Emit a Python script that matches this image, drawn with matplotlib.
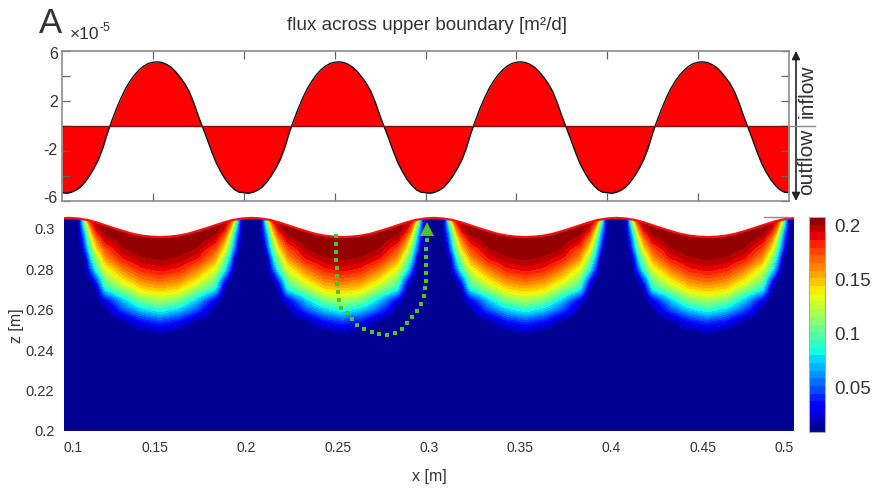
"""Flux across the upper boundary and the field below the wavy surface."""

import matplotlib
matplotlib.use("Agg")
import matplotlib.pyplot as plt
import numpy as np
from matplotlib.patches import Polygon
from matplotlib.transforms import Affine2D, ScaledTranslation

plt.rcParams["font.family"] = ["Liberation Sans", "DejaVu Sans"]

W, H = 877, 494
TEXT = "#333333"
GREY = "#8c8c8c"
GREEN = "#4fc22e"

# flux [1e-5 m2/d], one period sampled every 0.0025 m starting at x = 0.1
flux_period = [
    -5.33, -5.38, -5.30, -5.14, -4.90, -4.50, -4.00, -3.40, -2.70, -1.75,
    -0.55, 0.45, 1.40, 2.25, 3.00, 3.60, 4.10, 4.50, 4.80, 5.00,
    5.10, 5.13, 5.08, 4.93, 4.70, 4.35, 3.90, 3.40, 2.75, 1.85,
    0.80, -0.15, -1.10, -2.10, -3.00, -3.70, -4.30, -4.75, -5.10, -5.30,
]
flux_x_start = 0.1
flux_x_step = 0.0025

# surface height [m], crest to trough, every 0.005 m
surface_half = [0.3055, 0.3052, 0.3045, 0.3033, 0.3018, 0.3003,
                0.2989, 0.2976, 0.2967, 0.2962, 0.2960]
first_trough = 0.0527

# field table: rows are z, columns are distance from the trough centre
field_d = [0.0, 0.01, 0.02, 0.03, 0.035, 0.038, 0.041, 0.043, 0.045, 0.05]
field_z = [0.2, 0.245, 0.25, 0.255, 0.26, 0.265, 0.27, 0.275, 0.28, 0.285,
           0.29, 0.295, 0.30, 0.305, 0.31]
field_rows = [
    [0, 0, 0, 0, 0, 0, 0, 0, 0, 0],
    [0, 0, 0, 0, 0, 0, 0, 0, 0, 0],
    [0.012, 0.005, 0, 0, 0, 0, 0, 0, 0, 0],
    [0.04, 0.03, 0.006, 0, 0, 0, 0, 0, 0, 0],
    [0.08, 0.065, 0.04, 0.002, 0, 0, 0, 0, 0, 0],
    [0.11, 0.1, 0.065, 0.02, 0, 0, 0, 0, 0, 0],
    [0.14, 0.133, 0.105, 0.075, 0.005, 0, 0, 0, 0, 0],
    [0.162, 0.155, 0.133, 0.1, 0.035, 0.005, 0, 0, 0, 0],
    [0.182, 0.176, 0.155, 0.122, 0.082, 0.04, 0, 0, 0, 0],
    [0.194, 0.19, 0.178, 0.148, 0.101, 0.066, 0.005, 0, 0, 0],
    [0.201, 0.2, 0.192, 0.165, 0.133, 0.09, 0.04, 0.005, 0, 0],
    [0.204, 0.204, 0.203, 0.187, 0.155, 0.114, 0.055, 0.02, 0, 0],
    [0.205, 0.205, 0.205, 0.202, 0.185, 0.151, 0.075, 0.04, 0, 0],
    [0.205, 0.205, 0.205, 0.205, 0.195, 0.19, 0.133, 0.05, 0.005, 0],
    [0.205, 0.205, 0.205, 0.205, 0.2, 0.2, 0.15, 0.06, 0.005, 0],
]

# dotted green flow path
path_x = [0.2489, 0.2491, 0.2491, 0.2493, 0.2494, 0.2496, 0.2498, 0.2500,
          0.2505, 0.2520, 0.2553, 0.2577, 0.2608, 0.2646, 0.2686, 0.2728,
          0.2772, 0.2814, 0.2851, 0.2882, 0.2909, 0.2936, 0.2958, 0.2971,
          0.2978, 0.2982, 0.2984, 0.2984, 0.2986, 0.2986, 0.2988]
path_z = [0.2966, 0.2926, 0.2885, 0.2845, 0.2805, 0.2766, 0.2726, 0.2687,
          0.2649, 0.2611, 0.2586, 0.2553, 0.2523, 0.2505, 0.2490, 0.2480,
          0.2475, 0.2484, 0.2505, 0.2533, 0.2563, 0.2596, 0.2631, 0.2669,
          0.2706, 0.2744, 0.2784, 0.2824, 0.2863, 0.2903, 0.2944]

x_ticks = [0.1, 0.15, 0.2, 0.25, 0.3, 0.35, 0.4, 0.45, 0.5]
x_tick_labels = ["0.1", "0.15", "0.2", "0.25", "0.3", "0.35", "0.4", "0.45", "0.5"]
z_ticks = [0.2, 0.22, 0.24, 0.26, 0.28, 0.3]
z_tick_labels = ["0.2", "0.22", "0.24", "0.26", "0.28", "0.3"]
flux_ticks = [-6, -4, -2, 0, 2, 4, 6]
flux_tick_labels = ["-6", "", "-2", "", "2", "", "6"]
cbar_ticks = [0.05, 0.1, 0.15, 0.2]
cbar_tick_labels = ["0.05", "0.1", "0.15", "0.2"]


def px_axes(fig, left, top, right, bottom):
    return fig.add_axes([left / W, 1 - bottom / H, (right - left) / W, (bottom - top) / H])


def style_spines(ax, color=GREY, lw=1.2):
    for spine in ax.spines.values():
        spine.set_color(color)
        spine.set_linewidth(lw)


def soften(grid, kernel, axis):
    # light blur so the coarse table does not give kinked contour bands
    kernel = np.array(kernel, dtype=float)
    kernel /= kernel.sum()
    return np.apply_along_axis(lambda v: np.convolve(v, kernel, mode="same"), axis, grid)


fig = plt.figure(figsize=(W / 100, H / 100), dpi=100)

# flux panel
ax_top = px_axes(fig, 62, 51, 789, 201)
flux = np.array(flux_period * 4 + flux_period[:1])
flux_x = flux_x_start + flux_x_step * np.arange(len(flux))
ax_top.fill_between(flux_x, 0, flux, color="#ff0000", lw=0)
ax_top.plot(flux_x, flux, color="#111111", lw=1.0)
ax_top.axhline(0, color="#7a1010", lw=1.0)
ax_top.set_xlim(0.1, 0.5)
ax_top.set_ylim(-6, 6)
ax_top.set_xticks(x_ticks[1:-1], [""] * 7)
ax_top.set_yticks(flux_ticks, flux_tick_labels, fontsize=11.5, color=TEXT)
ax_top.tick_params(axis="both", direction="in", length=5.5, width=0.9, color="#666666",
                   top=True, right=True, pad=3)
style_spines(ax_top)
shift_labels = {"-2": 2, "-6": 4, "6": -2, "2": 0}
for label in ax_top.get_yticklabels():
    dy = shift_labels.get(label.get_text(), 0)
    label.set_transform(label.get_transform() + ScaledTranslation(0, dy / 100, fig.dpi_scale_trans))

# field panel
ax = px_axes(fig, 64, 216, 794, 431)
ax.set_xlim(0.1, 0.5)
ax.set_ylim(0.2, 0.2 + 215 / 2020)

d = np.array(field_d)
table = np.minimum(np.array(field_rows, dtype=float), 0.2)
x_cols, z_cols = [], []
for i in range(6):
    trough = first_trough + 0.1 * i
    x_cols.extend(trough + d[:-1])
    z_cols.append(table[:, :-1])
    x_cols.extend(trough + 0.1 - d[:0:-1])
    z_cols.append(table[:, :0:-1])
x_grid = np.array(x_cols)
field = np.hstack(z_cols)

x_fine = np.arange(0.08, 0.52, 0.0005)
z_fine = np.arange(0.2, 0.3105, 0.0005)
fine = np.array([np.interp(x_fine, x_grid, row) for row in field])
fine = np.array([np.interp(z_fine, field_z, col) for col in fine.T]).T
fine = soften(fine, [1, 2, 3, 2, 1], 1)
fine = soften(fine, [1, 2, 3, 4, 5, 6, 5, 4, 3, 2, 1], 0)

levels = np.linspace(0, 0.2, 29)
cf = ax.contourf(x_fine, z_fine, np.clip(fine, 0, 0.2), levels=levels, cmap="jet", vmin=0, vmax=0.2)

half = np.array(surface_half)
surf_step = 0.005
surf_x, surf_z = [], []
for i in range(6):
    crest = first_trough - 0.05 + 0.1 * i
    surf_x.extend(crest + surf_step * np.arange(len(half)))
    surf_z.extend(half)
    surf_x.extend(crest + 0.05 + surf_step * np.arange(1, len(half) - 1))
    surf_z.extend(half[-2:0:-1])
surf_x = np.array(surf_x)
surf_z = np.array(surf_z)

clip = Polygon(np.vstack([np.c_[surf_x, surf_z], [surf_x[-1], 0.19], [surf_x[0], 0.19]]),
               transform=ax.transData, facecolor="none", edgecolor="none")
ax.add_patch(clip)
cf.set_clip_path(clip)

ax.plot(surf_x, surf_z, color="#f81010", lw=1.6)
ax.plot(path_x, path_z, "s", color=GREEN, ms=3.3, mew=0)
ax.plot([0.2989], [0.3000], "^", color=GREEN, ms=10, mew=0)

ax.set_xticks(x_ticks, x_tick_labels, fontsize=10, color=TEXT)
ax.set_yticks(z_ticks, z_tick_labels, fontsize=10.5, color=TEXT)
ax.tick_params(axis="both", length=0, pad=7)
ax.get_xticklabels()[0].set_ha("left")
ax.get_xticklabels()[-1].set_ha("right")
for spine in ax.spines.values():
    spine.set_visible(False)
ax.set_xlabel("x [m]", fontsize=11.5, color=TEXT, labelpad=10)
fig.text(16 / W, 1 - 326 / H, "z [m]", rotation=90, fontsize=11.5, color=TEXT,
         ha="center", va="center")

# colour bar
cax = px_axes(fig, 809, 217, 825, 432)
cbar = fig.colorbar(cf, cax=cax, drawedges=False)
cbar.set_ticks(cbar_ticks, labels=cbar_tick_labels)
cax.tick_params(length=0, labelsize=13.5, labelcolor=TEXT, pad=7)
cbar.outline.set_edgecolor("#aaaaaa")
cbar.outline.set_linewidth(0.8)
for label in cax.get_yticklabels():
    label.set_transform(label.get_transform() + ScaledTranslation(0, -9 / 100, fig.dpi_scale_trans))

# annotations in figure pixels
fig_px = Affine2D().scale(1 / W, -1 / H).translate(0, 1) + fig.transFigure
fig.text(427 / W, 1 - 25 / H, "flux across upper boundary [m²/d]", fontsize=13.6, color=TEXT,
         ha="center", va="center")
fig.text(39 / W, 1 - 33 / H, "A", fontsize=25, color=TEXT, ha="left", va="baseline")
fig.text(70 / W, 1 - 39 / H, "×10", fontsize=12.5, color=TEXT, ha="left", va="baseline")
fig.text(100 / W, 1 - 31 / H, "-5", fontsize=9, color=TEXT, ha="left", va="baseline")

fig.text(807 / W, 1 - 91 / H, "inflow", rotation=90, fontsize=15, color=TEXT, ha="center", va="center")
fig.text(807 / W, 1 - 162 / H, "outflow", rotation=90, fontsize=15, color=TEXT, ha="center", va="center")
ax_top.annotate("", xy=(796, 51), xytext=(796, 201), xycoords=fig_px, textcoords=fig_px,
                arrowprops=dict(arrowstyle="<|-|>", color="#222222", lw=1.2, shrinkA=0, shrinkB=0,
                                mutation_scale=12),
                annotation_clip=False)
fig.add_artist(plt.Line2D([788, 815], [126, 126], transform=fig_px, color=GREY, lw=1.0))
fig.add_artist(plt.Line2D([764, 788], [217, 217], transform=fig_px, color=GREY, lw=1.0))

fig.savefig("out.png", dpi=100)
